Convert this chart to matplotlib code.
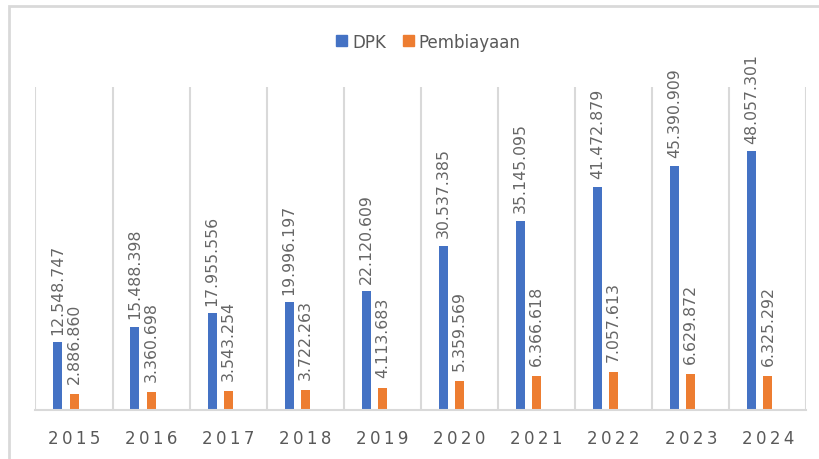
import matplotlib
matplotlib.use('Agg')
import matplotlib.pyplot as plt
from matplotlib.patches import Patch, Rectangle
import numpy as np

# Data
tahun = ['2015', '2016', '2017', '2018', '2019', '2020', '2021', '2022', '2023', '2024']
dpk = [12548747, 15488398, 17955556, 19996197, 22120609,
       30537385, 35145095, 41472879, 45390909, 48057301]
pembiayaan = [2886860, 3360698, 3543254, 3722263, 4113683,
              5359569, 6366618, 7057613, 6629872, 6325292]

BLUE = '#4472C4'
ORANGE = '#ED7D31'
GRAY = '#595959'
GRID = '#D9D9D9'

plt.rcParams['font.family'] = ['DejaVu Sans']

def fmt(v):
    return f'{v:,}'.replace(',', '.')

fig = plt.figure(figsize=(8.19, 4.6), dpi=100)
ax = fig.add_axes([0.0433, 0.1065, 0.9414, 0.7022])

x = np.arange(len(tahun))
w = 0.117
b1 = ax.bar(x - 0.21, dpk, width=w, color=BLUE)
b2 = ax.bar(x, pembiayaan, width=w, color=ORANGE)

# Label rotasi di atas batang
for bars, vals, off in [(b1, dpk, 6), (b2, pembiayaan, 8)]:
    for bar, v in zip(bars, vals):
        ax.annotate(fmt(v), (bar.get_x() + bar.get_width() / 2, v),
                    xytext=(0, off), textcoords='offset points',
                    rotation=90, ha='center', va='bottom',
                    fontsize=11.3, color='#666666')

ax.set_xlim(-0.5, len(tahun) - 0.5)
ax.set_ylim(0, 60e6)

# Garis pemisah kategori
for b in np.arange(-0.5, len(tahun), 1.0):
    ax.axvline(b, color=GRID, lw=1.5, zorder=0)

for s in ['top', 'right', 'left']:
    ax.spines[s].set_visible(False)
ax.spines['bottom'].set_color(GRID)
ax.spines['bottom'].set_linewidth(1.5)

ax.set_yticks([])
ax.set_xticks(x)
ax.set_xticklabels(['\u2009'.join(t) for t in tahun], fontsize=12, color=GRAY)
ax.tick_params(axis='x', length=0, pad=14)

# Legend
handles = [Patch(color=BLUE, label='DPK'), Patch(color=ORANGE, label='Pembiayaan')]
fig.legend(handles=handles, loc='center', bbox_to_anchor=(0.523, 0.907), ncol=2,
           frameon=False, fontsize=12, handlelength=0.65, handleheight=0.65,
           handletextpad=0.3, columnspacing=1.0, labelcolor=GRAY)

# Bingkai luar
fig.patches.append(Rectangle((0.0105, -0.1), 1.2, 1.085, transform=fig.transFigure,
                             fill=False, edgecolor=GRID, lw=2))

plt.savefig('out.png', dpi=100)
plt.close()
